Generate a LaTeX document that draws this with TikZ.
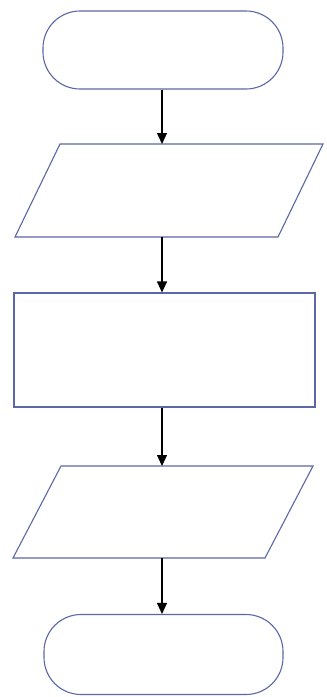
\documentclass[tikz,border=0pt]{standalone}
\usetikzlibrary{arrows.meta}
\definecolor{shapeblue}{HTML}{5C67A6}
\tikzset{
  terminal/.style={draw=shapeblue, line width=1.1pt, rectangle, rounded corners=37pt, fill=white, inner sep=0pt},
  process/.style={draw=shapeblue, line width=1.1pt, rectangle, fill=white, inner sep=0pt},
  io/.style={draw=shapeblue, line width=1.1pt, fill=white, line join=miter},
  flow/.style={draw=black, line width=1.1pt, -{Triangle[length=11pt,width=10pt]}}
}
\begin{document}
\begin{tikzpicture}[x=1pt,y=-1pt]
\useasboundingbox[fill=white] (0,0) rectangle (327,697);
\node[terminal, minimum width=240pt, minimum height=78pt] (t1) at (163,50) {};
% input parallelogram
\draw[io] (60,144) -- (323,144) -- (278,237) -- (15,237) -- cycle;
\coordinate (p1top) at (162,144);
\coordinate (p1bot) at (162,237);
\node[process, minimum width=301pt, minimum height=114pt] (r1) at (164.5,350) {};
% output parallelogram
\draw[io] (61,466) -- (313,466) -- (265,558) -- (13,558) -- cycle;
\coordinate (p2top) at (162,466);
\coordinate (p2bot) at (162,558);
\node[terminal, minimum width=239pt, minimum height=80pt] (t2) at (163.5,654.5) {};
\draw[flow] (t1.south -| p1top) -- (p1top);
\draw[flow] (p1bot) -- (p1bot |- r1.north);
\draw[flow] (r1.south -| p2top) -- (p2top);
\draw[flow] (p2bot) -- (p2bot |- t2.north);
\end{tikzpicture}
\end{document}
